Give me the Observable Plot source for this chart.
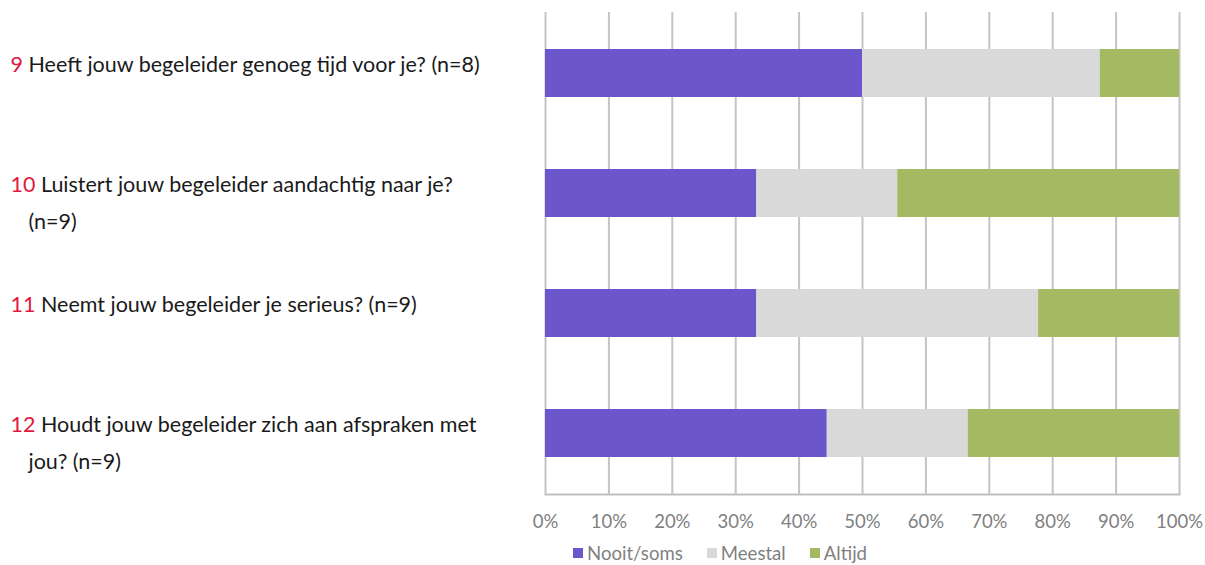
<!DOCTYPE html>
<html>
<head>
<meta charset="utf-8">
<script src="https://cdn.jsdelivr.net/npm/d3@7"></script>
<script src="https://cdn.jsdelivr.net/npm/@observablehq/plot@0.6"></script>
<style>
  html, body { margin: 0; padding: 0; background: #ffffff; }
  #chart { width: 1205px; font-family: Lato, sans-serif; }
  .lg-swatches { font-family: Lato, sans-serif !important; font-size: 18.6px !important; color: #7f7f7f !important; margin: 0 0 0 573px !important; min-height: 26px !important; }
  .lg-swatch { margin-right: 24px !important; }
  .lg-swatch > svg { margin-right: 4px !important; }
</style>
</head>
<body>
<div id="chart"></div>
<script>
// ---- data ----
const questionIds = ["9", "10", "11", "12"];
const questionTexts = [
  "Heeft jouw begeleider genoeg tijd voor je? (n=8)",
  "Luistert jouw begeleider aandachtig naar je?\n(n=9)",
  "Neemt jouw begeleider je serieus? (n=9)",
  "Houdt jouw begeleider zich aan afspraken met\njou? (n=9)"
];
const answers = ["Nooit/soms", "Meestal", "Altijd"];
const nooitSoms = [4, 3, 3, 4];
const meestal = [3, 2, 4, 2];
const altijd = [1, 4, 2, 3];
const xTicks = [0, 0.1, 0.2, 0.3, 0.4, 0.5, 0.6, 0.7, 0.8, 0.9, 1];
const answerColors = ["#6c56cc", "#d9d9d9", "#a3ba63"];

const series = [nooitSoms, meestal, altijd];
const rows = [];
questionIds.forEach((q, i) => {
  answers.forEach((a, j) => rows.push({question: q, answer: a, count: series[j][i]}));
});

const plot = Plot.plot({
  width: 1205,
  height: 540,
  marginLeft: 545,
  marginRight: 26,
  marginTop: 12,
  marginBottom: 46,
  style: {fontFamily: "Lato, sans-serif", fontSize: "18px", background: "#ffffff"},
  x: {domain: [0, 1], axis: null},
  y: {domain: questionIds, type: "band", paddingInner: 0.6, paddingOuter: 0.3, axis: null},
  color: {domain: answers, range: answerColors},
  marks: [
    Plot.ruleX(xTicks, {stroke: "#c4c4c4", strokeWidth: 2}),
    Plot.frame({anchor: "bottom", stroke: "#bfbfbf", strokeWidth: 2}),
    Plot.barX(rows, Plot.stackX({
      offset: "normalize",
      order: answers,
      x: "count",
      y: "question",
      fill: "answer"
    })),
    Plot.axisX({
      ticks: xTicks,
      tickFormat: d3.format(".0%"),
      tickSize: 0,
      tickPadding: 20,
      fill: "#7f7f7f",
      fontSize: 18.5,
      label: null
    }),
    Plot.text(questionIds, {
      y: d => d,
      text: (d, i) => d + " " + questionTexts[i],
      frameAnchor: "left",
      textAnchor: "start",
      lineAnchor: "top",
      dx: -535,
      dy: -27.5,
      lineHeight: 1.7,
      fontSize: 21.5,
      fill: "#1a1a1a",
      className: "qlabel"
    })
  ]
});

// colour the question numbers red and indent continuation lines
const ns = "http://www.w3.org/2000/svg";
plot.querySelectorAll(".qlabel text").forEach(t => {
  const spans = t.querySelectorAll("tspan");
  const lines = spans.length ? Array.from(spans) : [t];
  lines.forEach((el, i) => {
    if (i === 0) {
      const s = el.textContent;
      const m = s.match(/^(\d+)\s(.*)$/);
      if (!m) return;
      el.textContent = "";
      const a = document.createElementNS(ns, "tspan");
      a.setAttribute("fill", "#e3173e");
      a.textContent = m[1] + " ";
      const b = document.createElementNS(ns, "tspan");
      b.textContent = m[2];
      el.append(a, b);
    } else {
      el.setAttribute("x", "18");
    }
  });
});

const legend = Plot.legend({
  color: plot.scale("color"),
  swatchSize: 10,
  className: "lg"
});

const root = document.getElementById("chart");
root.append(plot, legend);
</script>
</body>
</html>
